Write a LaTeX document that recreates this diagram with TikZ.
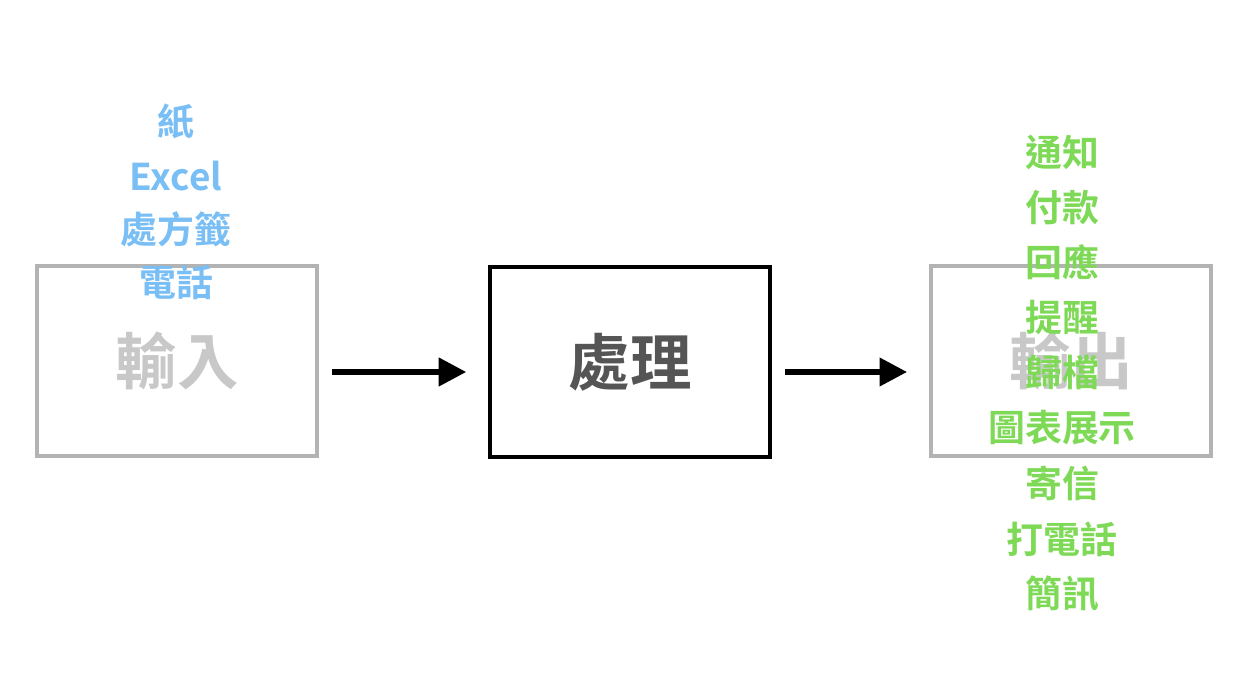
\documentclass[tikz,border=0pt]{standalone}
\usepackage{fontspec}
\newfontfamily\cjk{Noto Sans CJK TC}[BoldFont={Noto Sans CJK TC Bold}]
\usepackage{tikz}
\usetikzlibrary{arrows.meta}
\definecolor{boxgray}{HTML}{B3B3B3}
\definecolor{labelgray}{HTML}{C8C8C8}
\definecolor{inblue}{HTML}{79BEF4}
\definecolor{outgreen}{HTML}{7ED957}
\definecolor{darktext}{HTML}{555555}
\tikzset{
  stagebox/.style={draw,minimum width=5.6cm,minimum height=3.8cm,inner sep=0,font=\cjk\bfseries\fontsize{35}{40}\selectfont},
  listtext/.style={font=\cjk\bfseries\fontsize{21}{24}\selectfont,inner sep=0},
  flow/.style={-{Triangle[length=0.55cm,width=0.55cm]},line width=3.2pt,shorten <=0.26cm,shorten >=0.44cm}
}
\begin{document}
\begin{tikzpicture}
  \useasboundingbox (0,0) rectangle (25.16,13.48);
  \node [stagebox,draw=boxgray,line width=2.2pt,text=labelgray] (input) at (3.54,6.26) {輸入};
  \node [stagebox,line width=2pt,text=darktext] (process) at (12.6,6.24) {處理};
  \node [stagebox,draw=boxgray,line width=2.2pt,text=labelgray] (output) at (21.42,6.26) {輸出};
  \foreach \t/\y [count=\i] in {紙/11.06,Excel/9.96,處方籤/8.9,電話/7.84} {
    \node [listtext,text=inblue] (in\i) at (3.52,\y) {\t};
  }
  \foreach \t/\y [count=\i] in {通知/10.44,付款/9.32,回應/8.24,提醒/7.14,歸檔/6.04,圖表展示/4.92,寄信/3.82,打電話/2.7,簡訊/1.6} {
    \node [listtext,text=outgreen] (out\i) at (21.24,\y) {\t};
  }
  \draw [flow] (input.east |- 0,6.04) -- (process.west |- 0,6.04);
  \draw [flow] (process.east |- 0,6.04) -- (output.west |- 0,6.04);
\end{tikzpicture}
\end{document}
